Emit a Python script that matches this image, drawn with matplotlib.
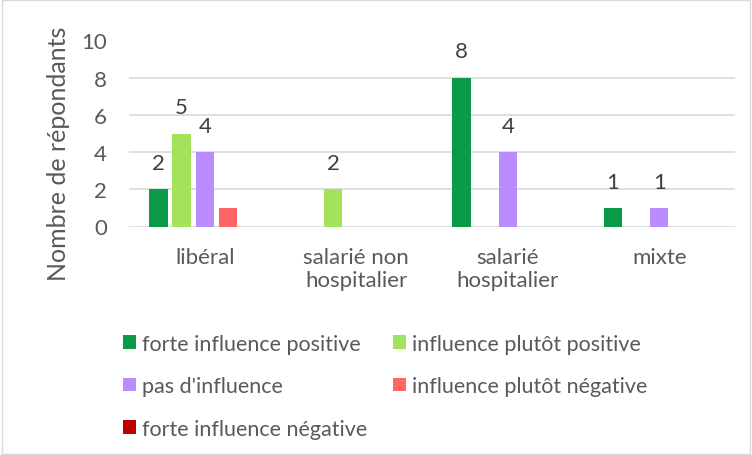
import matplotlib

matplotlib.use("Agg")
import matplotlib.pyplot as plt
import numpy as np
from matplotlib.patches import Rectangle

categories = ["libéral", "salarié non\nhospitalier", "salarié\nhospitalier", "mixte"]
series_names = [
    "forte influence positive",
    "influence plutôt positive",
    "pas d'influence",
    "influence plutôt négative",
    "forte influence négative",
]
values = [
    [2, 0, 8, 1],
    [5, 2, 0, 0],
    [4, 0, 4, 1],
    [1, 0, 0, 0],
    [0, 0, 0, 0],
]
# the label of the small red bar is hidden in the original
show_labels = [True, True, True, False, False]
colors = ["#0A9A48", "#A3E35B", "#B98CFF", "#FF6666", "#C00000"]
yticks = [0, 2, 4, 6, 8, 10]

plt.rcParams["font.family"] = ["Lato", "DejaVu Sans"]
text_color = "#595959"

W, H = 752, 456
fig = plt.figure(figsize=(W / 100, H / 100), dpi=100)
ax = fig.add_axes([129 / W, 1 - 227.5 / H, (735 - 129) / W, (227.5 - 41.5) / H])

x = np.arange(len(categories))
slot = 0.153
width = 0.122
handles = []
for i, (name, vals, col) in enumerate(zip(series_names, values, colors)):
    pos = x + (i - 2) * slot
    bars = ax.bar(pos, vals, width=width, color=col, label=name, zorder=3)
    handles.append(bars)
    if not show_labels[i]:
        continue
    for px, v in zip(pos, vals):
        if v > 0:
            ax.annotate(str(v), (px, v), xytext=(0, 19), textcoords="offset points",
                        ha="center", va="center", fontsize=16, color="#404040")

ax.set_xlim(-0.5, len(categories) - 0.5)
ax.set_ylim(0, 10)
ax.set_yticks(yticks)
ax.set_xticks(x)
ax.set_xticklabels(categories, fontsize=16, color=text_color, linespacing=1.15)
ax.tick_params(axis="y", labelsize=16, labelcolor=text_color, length=0, pad=16)
ax.tick_params(axis="x", length=0, pad=15)
ax.grid(axis="y", color="#D9D9D9", linewidth=1.2, zorder=0)
for s in ax.spines.values():
    s.set_visible(False)
fig.text(59 / W, 1 - 154 / H, "Nombre de répondants", rotation=90,
         ha="center", va="center", fontsize=18, color=text_color)

order = [0, 2, 4, 1, 3]
fig.legend([handles[k] for k in order], [series_names[k] for k in order],
           ncol=2, loc="upper left", bbox_to_anchor=(114 / W, 1 - 326 / H),
           frameon=False, fontsize=15.5, labelcolor=text_color,
           handlelength=0.6, handleheight=0.6, handletextpad=0.3,
           columnspacing=1.2, labelspacing=1.05, borderaxespad=0)

fig.patches.append(Rectangle((0.002, 0.002), 0.996, 0.996, transform=fig.transFigure,
                             fill=False, edgecolor="#D9D9D9", linewidth=1))

fig.savefig("out.png", dpi=100)
